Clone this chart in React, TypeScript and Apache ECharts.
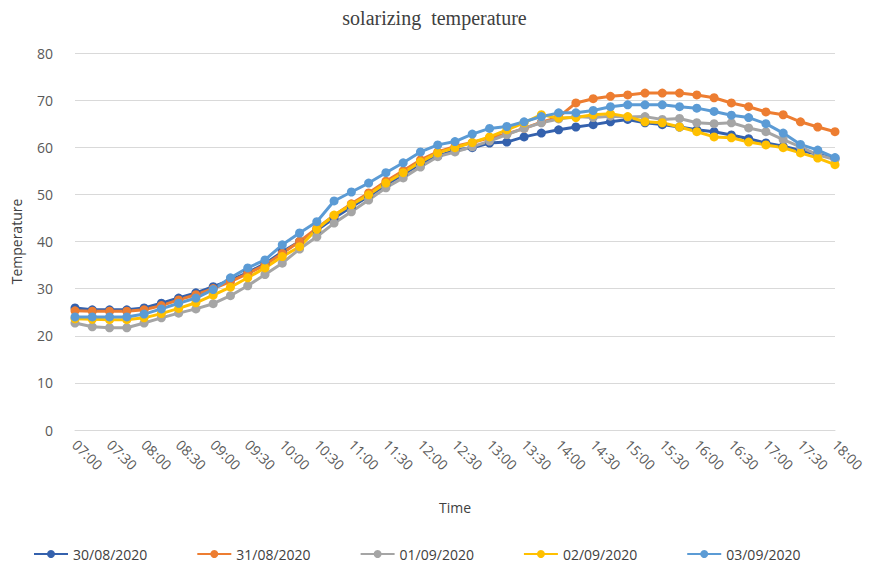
import React, { useEffect, useRef } from "react";
import * as echarts from "echarts";

// 15-minute readings from 07:00 to 18:00
const times: string[] = [
  "07:00", "07:15", "07:30", "07:45", "08:00", "08:15", "08:30", "08:45",
  "09:00", "09:15", "09:30", "09:45", "10:00", "10:15", "10:30", "10:45",
  "11:00", "11:15", "11:30", "11:45", "12:00", "12:15", "12:30", "12:45",
  "13:00", "13:15", "13:30", "13:45", "14:00", "14:15", "14:30", "14:45",
  "15:00", "15:15", "15:30", "15:45", "16:00", "16:15", "16:30", "16:45",
  "17:00", "17:15", "17:30", "17:45", "18:00",
];

const day3008: number[] = [
  25.9, 25.5, 25.5, 25.5, 25.9, 26.9, 28.0, 29.1, 30.4, 31.8, 33.4, 35.3,
  37.8, 40.0, 42.4, 45.0, 47.3, 49.6, 52.0, 54.2, 56.5, 58.1, 59.4, 59.9,
  60.9, 61.1, 62.2, 63.0, 63.7, 64.3, 64.8, 65.4, 65.9, 65.2, 64.8, 64.3,
  63.7, 63.3, 62.6, 61.8, 60.9, 60.2, 59.3, 58.5, 57.6,
];

const day3108: number[] = [
  25.3, 25.2, 25.2, 25.2, 25.5, 26.4, 27.6, 28.7, 30.0, 31.5, 33.2, 35.0,
  37.5, 40.0, 42.8, 45.5, 48.0, 50.3, 52.8, 55.0, 57.3, 59.0, 60.2, 61.0,
  62.0, 62.8, 64.0, 65.3, 66.4, 69.4, 70.3, 70.8, 71.1, 71.5, 71.5, 71.5,
  71.1, 70.5, 69.4, 68.6, 67.5, 66.9, 65.4, 64.3, 63.3,
];

const day0109: number[] = [
  22.7, 21.9, 21.7, 21.7, 22.7, 23.8, 24.8, 25.7, 26.8, 28.5, 30.6, 33.0,
  35.4, 38.4, 41.0, 43.9, 46.3, 48.8, 51.4, 53.5, 55.8, 58.0, 59.0, 60.1,
  61.3, 62.7, 64.0, 65.2, 66.0, 66.5, 66.3, 66.6, 66.4, 66.5, 65.9, 66.1,
  65.2, 65.0, 65.2, 64.1, 63.3, 61.6, 60.1, 58.4, 57.4,
];

const day0209: number[] = [
  23.6, 23.5, 23.4, 23.4, 23.8, 24.7, 25.8, 27.0, 28.6, 30.3, 32.3, 34.4,
  36.8, 38.9, 42.6, 45.6, 47.8, 49.9, 52.4, 54.6, 56.9, 58.8, 59.9, 61.0,
  62.2, 63.7, 65.2, 66.9, 66.2, 66.3, 66.9, 67.1, 66.5, 65.4, 65.2, 64.3,
  63.3, 62.2, 62.0, 61.1, 60.5, 59.9, 58.8, 57.7, 56.3,
];

const day0309: number[] = [
  24.0, 24.0, 24.0, 24.0, 24.6, 25.7, 26.9, 28.0, 29.8, 32.3, 34.4, 36.1,
  39.3, 41.8, 44.2, 48.6, 50.5, 52.4, 54.6, 56.7, 59.0, 60.5, 61.2, 62.8,
  64.0, 64.4, 65.4, 66.5, 67.3, 67.3, 67.8, 68.6, 69.0, 69.0, 69.0, 68.6,
  68.3, 67.6, 66.8, 66.3, 65.0, 63.0, 60.6, 59.4, 57.8,
];

const seriesNames: string[] = [
  "30/08/2020", "31/08/2020", "01/09/2020", "02/09/2020", "03/09/2020",
];
const seriesData: number[][] = [day3008, day3108, day0109, day0209, day0309];
const seriesColors: string[] = ["#3461AD", "#ED7D31", "#A5A5A5", "#FFC000", "#5B9BD5"];

const labelFont = "'Open Sans', sans-serif";

export default function App() {
  const ref = useRef<HTMLDivElement>(null);

  useEffect(() => {
    if (!ref.current) return;
    const chart = echarts.init(ref.current, undefined, { renderer: "svg" });
    chart.setOption({
      animation: false,
      backgroundColor: "#ffffff",
      title: {
        text: "solarizing  temperature",
        left: "center",
        top: 3,
        textStyle: {
          fontFamily: "'Liberation Serif', serif",
          fontWeight: "normal",
          fontSize: 20,
          color: "#404040",
        },
      },
      legend: {
        bottom: 6,
        left: 28,
        itemWidth: 34,
        itemHeight: 10,
        itemGap: 49,
        textStyle: { fontFamily: labelFont, fontSize: 14, color: "#404040" },
        data: seriesNames,
      },
      grid: { left: 75, right: 34, top: 53, bottom: 142, containLabel: false },
      xAxis: {
        type: "category",
        data: times,
        boundaryGap: false,
        name: "Time",
        nameLocation: "middle",
        nameGap: 70,
        nameTextStyle: { fontFamily: labelFont, fontSize: 14, color: "#404040" },
        axisLine: { lineStyle: { color: "#D9D9D9" } },
        axisTick: { show: false },
        axisLabel: {
          interval: 1,
          rotate: -45,
          margin: 12,
          fontFamily: labelFont,
          fontSize: 14,
          color: "#595959",
        },
      },
      yAxis: {
        type: "value",
        min: 0,
        max: 80,
        interval: 10,
        name: "Temperature",
        nameLocation: "middle",
        nameGap: 52,
        nameTextStyle: { fontFamily: labelFont, fontSize: 14, color: "#404040" },
        axisLine: { show: false },
        axisTick: { show: false },
        axisLabel: { margin: 22, fontFamily: labelFont, fontSize: 14, color: "#595959" },
        splitLine: { lineStyle: { color: "#D9D9D9", width: 1 } },
      },
      series: seriesNames.map((name, i) => ({
        name,
        type: "line",
        data: seriesData[i],
        symbol: "circle",
        symbolSize: 9,
        color: seriesColors[i],
        lineStyle: { width: 3, color: seriesColors[i] },
        itemStyle: { color: seriesColors[i] },
      })),
    });
    return () => chart.dispose();
  }, []);

  return (
    <div
      ref={ref}
      style={{ position: "absolute", left: 0, top: 0, width: 869, height: 572 }}
    />
  );
}
